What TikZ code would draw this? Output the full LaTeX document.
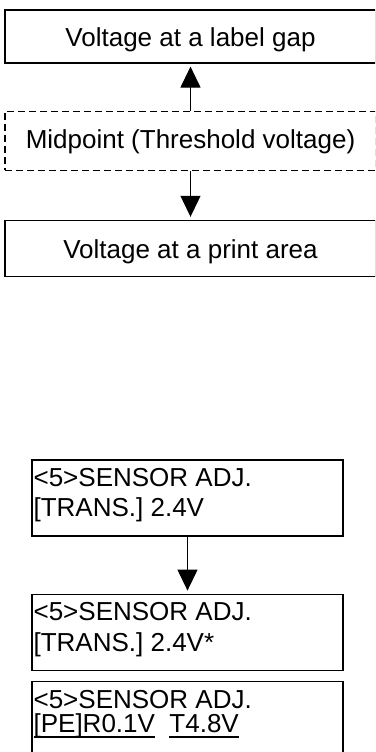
\documentclass[tikz,border=0pt]{standalone}
\usepackage{fontspec}
\setmainfont{Liberation Sans}
\usetikzlibrary{arrows.meta,positioning}
\newsavebox\lcdbox
\newcommand{\lcdul}[1]{\sbox\lcdbox{#1}\rlap{\rule[-5pt]{\wd\lcdbox}{1.4pt}}\usebox\lcdbox}
\tikzset{
  flow/box/.style={draw, line width=1.2pt, minimum width=371pt, inner sep=0pt, align=center, font=\fontsize{26}{24}\selectfont},
  flow/dashbox/.style={flow/box, dash pattern=on 7pt off 4pt},
  flow/screen/.style={draw, line width=1.2pt, minimum width=311pt, minimum height=76pt, inner sep=0pt},
  flow/lcd/.style={anchor=base west, inner sep=0pt, align=left, font=\fontsize{26}{#1}\selectfont},
  flow/lcd/.default=30.5pt,
  flow/arrow/.style={line width=1.2pt, -{Triangle[length=21pt,width=20pt]}, shorten >=3pt}
}
\begin{document}
\begin{tikzpicture}[x=1pt, y=1pt]
  \clip (0,0) rectangle (375,-752);
  % threshold levels
  \node[flow/box, text height=37pt, text depth=16pt] (gap) at (190.5,-36.5) {Voltage at a label gap};
  \node[flow/dashbox, below=47pt of gap, text height=37pt, text depth=22pt] (mid) {Midpoint (Threshold voltage)};
  \node[flow/box, below=49pt of mid, text height=38pt, text depth=18pt] (print) {Voltage at a print area};

  \draw[flow/arrow] (mid) -- (gap);
  \draw[flow/arrow] (mid) -- (print);

  % LCD screens
  \node[flow/screen] (scr1) at (187.5,-498) {};
  \node[flow/screen, below=57pt of scr1] (scr2) {};
  \node[flow/screen, below=10pt of scr2] (scr3) {};

  \node[flow/lcd] (txt1) at ([shift={(2pt,-57.5pt)}]scr1.north west) {<5>SENSOR ADJ.\\{}[TRANS.] 2.4V};
  \node[flow/lcd] (txt2) at ([shift={(2pt,-57.5pt)}]scr2.north west) {<5>SENSOR ADJ.\\{}[TRANS.] 2.4V*};
  \node[flow/lcd=24.5pt] (txt3) at ([shift={(2pt,-52pt)}]scr3.north west) {<5>SENSOR ADJ.\\\lcdul{[PE]R0.1V}\ \ \lcdul{T4.8V}};

  \draw[flow/arrow] (scr1) -- (scr2);
\end{tikzpicture}
\end{document}
